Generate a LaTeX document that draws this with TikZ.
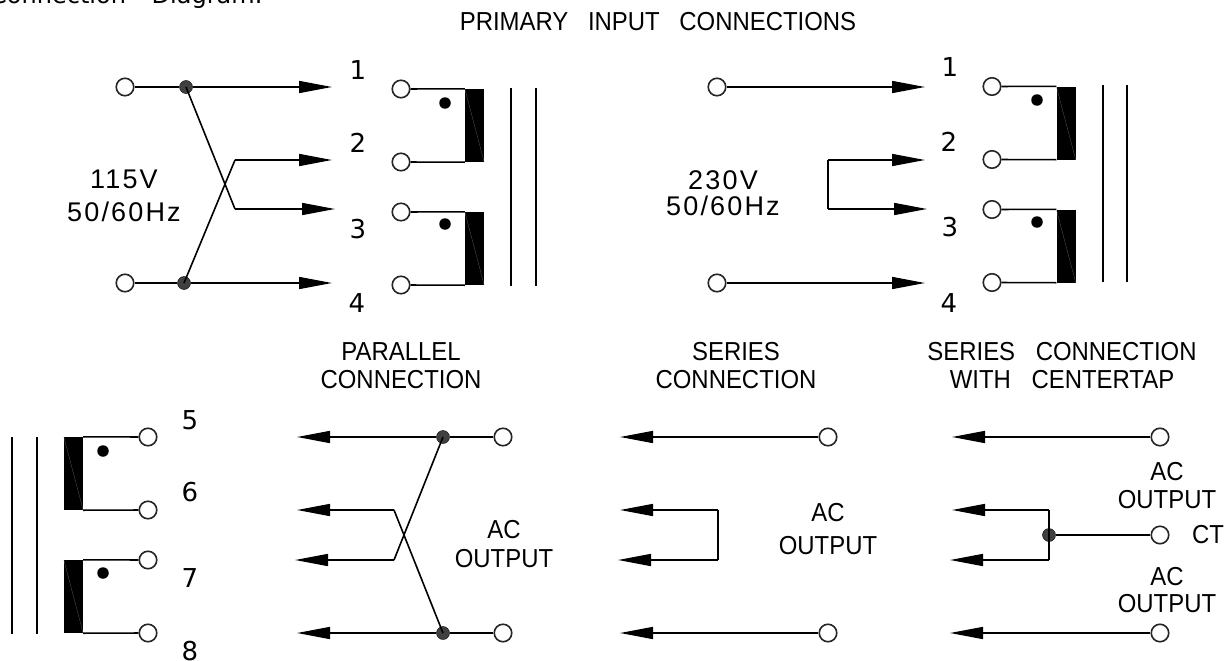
\documentclass[tikz,border=0pt]{standalone}
\usepackage{fontspec}
\usepackage{tikz}
\usetikzlibrary{arrows.meta}
\newfontfamily\cadfont[FakeStretch=0.92]{Liberation Sans}
\newfontfamily\voltfont[LetterSpace=8]{Liberation Sans}
\newfontfamily\headfont{DejaVu Sans}

\tikzset{
	term/.style={circle,draw=black!85,line width=1.6pt,fill=white,minimum size=17.5pt,inner sep=0pt},
	junct/.style={circle,draw=black,fill=black!75,minimum size=13pt,inner sep=0pt},
	phase/.style={circle,fill=black,minimum size=11.5pt,inner sep=0pt},
	coil/.style={rectangle,fill=black,minimum width=19pt,minimum height=73pt,inner sep=0pt},
	lbl/.style={font=\cadfont\fontsize{26}{28}\selectfont,align=center,inner sep=0pt},
	volt/.style={font=\voltfont\fontsize{27}{29}\selectfont,align=center,inner sep=0pt},
	num/.style={font=\headfont\fontsize{26}{28}\selectfont,inner sep=0pt},
	wire/.style={line width=1.6pt},
	tip/.style={wire,-{Triangle[length=33pt,width=12pt]}}
}

\begin{document}
\begin{tikzpicture}[x=1pt,y=-1pt]
\useasboundingbox (0,0) rectangle (1226,661);

\node[font=\headfont\fontsize{24}{28}\selectfont,anchor=base east,inner sep=0pt] (title) at (263,4) {Connection\hspace{18pt} Diagram:};
\node[lbl] (primary) at (658,22) {PRIMARY\hspace{13pt} INPUT\hspace{13pt} CONNECTIONS};

% 115V panel
\node[term] (inA) at (125,87) {};
\node[term] (inB) at (125,283) {};
\node[junct] (jA) at (186,87) {};
\node[junct] (jB) at (184,283) {};
\node[volt] (vA) at (124,195.5) {115V\\[4pt]50/60Hz};

\coordinate (tA1) at (332,87);
\coordinate (tA2) at (332,160);
\coordinate (tA3) at (335,209);
\coordinate (tA4) at (332,283);
\coordinate (kA2) at (235,160);
\coordinate (kA3) at (235,209);

\foreach \from/\to in {inA/jA, inB/jB}
	\draw[wire] (\from) -- (\to);
\foreach \from/\to in {jA/tA1, jB/tA4, kA2/tA2, kA3/tA3}
	\draw[tip] (\from) -- (\to);
\foreach \from/\to in {jA/kA3, jB/kA2}
	\draw[wire] (\from.center) -- (\to);

\node[num] (nA1) at (358,70) {1};
\node[num] (nA2) at (358,143) {2};
\node[num] (nA3) at (358,229) {3};
\node[num] (nA4) at (357,303) {4};

\node[term] (pA1) at (401,89) {};
\node[term] (pA2) at (401,162) {};
\node[term] (pA3) at (401,212) {};
\node[term] (pA4) at (401,285) {};
\node[coil] (coilA1) at (474.5,125.5) {};
\node[coil] (coilA2) at (474.5,248.5) {};
\node[phase] (dotA1) at (445,103) {};
\node[phase] (dotA2) at (445,224) {};

\foreach \from/\to in {pA1/coilA1.north west, pA2/coilA1.south west, pA3/coilA2.north west, pA4/coilA2.south west}
	\draw[wire] (\from) -- (\to);

\coordinate (coreA1) at (511,88);
\coordinate (coreA2) at (511,286);
\coordinate (coreA3) at (536,88);
\coordinate (coreA4) at (536,286);

% 230V panel
\node[term] (inC) at (717,87) {};
\node[term] (inD) at (717,283) {};
\node[volt] (vB) at (723,193) {230V\\[-3pt]50/60Hz};

\coordinate (tB1) at (925,87);
\coordinate (tB2) at (925,160);
\coordinate (tB3) at (927,209);
\coordinate (tB4) at (925,283);
\coordinate (kB2) at (828,160);
\coordinate (kB3) at (828,209);

\foreach \from/\to in {inC/tB1, inD/tB4, kB2/tB2, kB3/tB3}
	\draw[tip] (\from) -- (\to);
\draw[wire] (kB2) -- (kB3);

\node[num] (nB1) at (950,67) {1};
\node[num] (nB2) at (949,142) {2};
\node[num] (nB3) at (950,227) {3};
\node[num] (nB4) at (949,303) {4};

\node[term] (pB1) at (992,86.5) {};
\node[term] (pB2) at (992,159.5) {};
\node[term] (pB3) at (992,209.5) {};
\node[term] (pB4) at (992,282.5) {};
\node[coil] (coilB1) at (1066,123) {};
\node[coil] (coilB2) at (1066,246) {};
\node[phase] (dotB1) at (1037,100) {};
\node[phase] (dotB2) at (1037,222) {};

\foreach \from/\to in {pB1/coilB1.north west, pB2/coilB1.south west, pB3/coilB2.north west, pB4/coilB2.south west}
	\draw[wire] (\from) -- (\to);

\coordinate (coreB1) at (1103,85);
\coordinate (coreB2) at (1103,282);
\coordinate (coreB3) at (1127,85);
\coordinate (coreB4) at (1127,282);

% secondary
\node[term] (pC1) at (148,437) {};
\node[term] (pC2) at (148,510) {};
\node[term] (pC3) at (148,560) {};
\node[term] (pC4) at (148,633) {};
\node[coil] (coilC1) at (73.5,473.5) {};
\node[coil] (coilC2) at (73.5,596.5) {};
\node[phase] (dotC1) at (103,451) {};
\node[phase] (dotC2) at (103,573) {};

\foreach \from/\to in {pC1/coilC1.north east, pC2/coilC1.south east, pC3/coilC2.north east, pC4/coilC2.south east}
	\draw[wire] (\from) -- (\to);

\coordinate (coreC1) at (12,437);
\coordinate (coreC2) at (12,634);
\coordinate (coreC3) at (37,437);
\coordinate (coreC4) at (37,634);

\node[num] (nC1) at (190,420) {5};
\node[num] (nC2) at (190,492) {6};
\node[num] (nC3) at (190,578) {7};
\node[num] (nC4) at (190,651) {8};

\foreach \from/\to in {coreA1/coreA2, coreA3/coreA4, coreB1/coreB2, coreB3/coreB4, coreC1/coreC2, coreC3/coreC4}
	\draw[wire] (\from) -- (\to);
\foreach \c in {coilA1,coilA2,coilB1,coilB2,coilC1,coilC2}
	\draw[black!55,very thin] (\c.north west) -- (\c.south east);

% parallel
\node[lbl] (headD) at (401,366) {PARALLEL\\CONNECTION};
\node[lbl] (acD) at (504,544.5) {AC\\[1pt]OUTPUT};
\node[term] (outD1) at (503,437) {};
\node[term] (outD2) at (503,633) {};
\node[junct] (jD1) at (443,437) {};
\node[junct] (jD2) at (443,633) {};
\coordinate (tD1) at (297,437);
\coordinate (tD2) at (297,510);
\coordinate (tD3) at (295,560);
\coordinate (tD4) at (297,633);
\coordinate (kD2) at (394,510);
\coordinate (kD3) at (394,560);

\foreach \from/\to in {outD1/jD1, outD2/jD2}
	\draw[wire] (\from) -- (\to);
\foreach \from/\to in {jD1/tD1, jD2/tD4, kD2/tD2, kD3/tD3}
	\draw[tip] (\from) -- (\to);
\foreach \from/\to in {jD1/kD3, jD2/kD2}
	\draw[wire] (\from.center) -- (\to);

% series
\node[lbl] (headE) at (736,366) {SERIES\\CONNECTION};
\node[lbl] (acE) at (828,529.5) {AC\\[5pt]OUTPUT};
\node[term] (outE1) at (828,437) {};
\node[term] (outE2) at (828,633) {};
\coordinate (tE1) at (620,437);
\coordinate (tE2) at (620,510);
\coordinate (tE3) at (618,560);
\coordinate (tE4) at (620,633);
\coordinate (kE2) at (718,510);
\coordinate (kE3) at (718,560);

\foreach \from/\to in {outE1/tE1, outE2/tE4, kE2/tE2, kE3/tE3}
	\draw[tip] (\from) -- (\to);
\draw[wire] (kE2) -- (kE3);

% centertap
\node[lbl] (headF) at (1062,366) {SERIES\hspace{14pt} CONNECTION\\WITH\hspace{14pt} CENTERTAP};
\node[lbl] (acF1) at (1167,486) {AC\\OUTPUT};
\node[lbl] (acF2) at (1167,590.5) {AC\\[-1pt]OUTPUT};
\node[lbl] (ct) at (1208,535) {CT};
\node[term] (outF1) at (1160,437) {};
\node[term] (outF2) at (1160,535) {};
\node[term] (outF3) at (1160,633) {};
\node[junct] (jF) at (1049,535) {};
\coordinate (tF1) at (952,437);
\coordinate (tF2) at (952,510);
\coordinate (tF3) at (950,560);
\coordinate (tF4) at (950,633);
\coordinate (kF2) at (1049,510);
\coordinate (kF3) at (1049,560);

\draw[wire] (outF2) -- (jF);
\draw[wire] (kF2) -- (kF3);
\foreach \from/\to in {outF1/tF1, outF3/tF4, kF2/tF2, kF3/tF3}
	\draw[tip] (\from) -- (\to);

\end{tikzpicture}
\end{document}
